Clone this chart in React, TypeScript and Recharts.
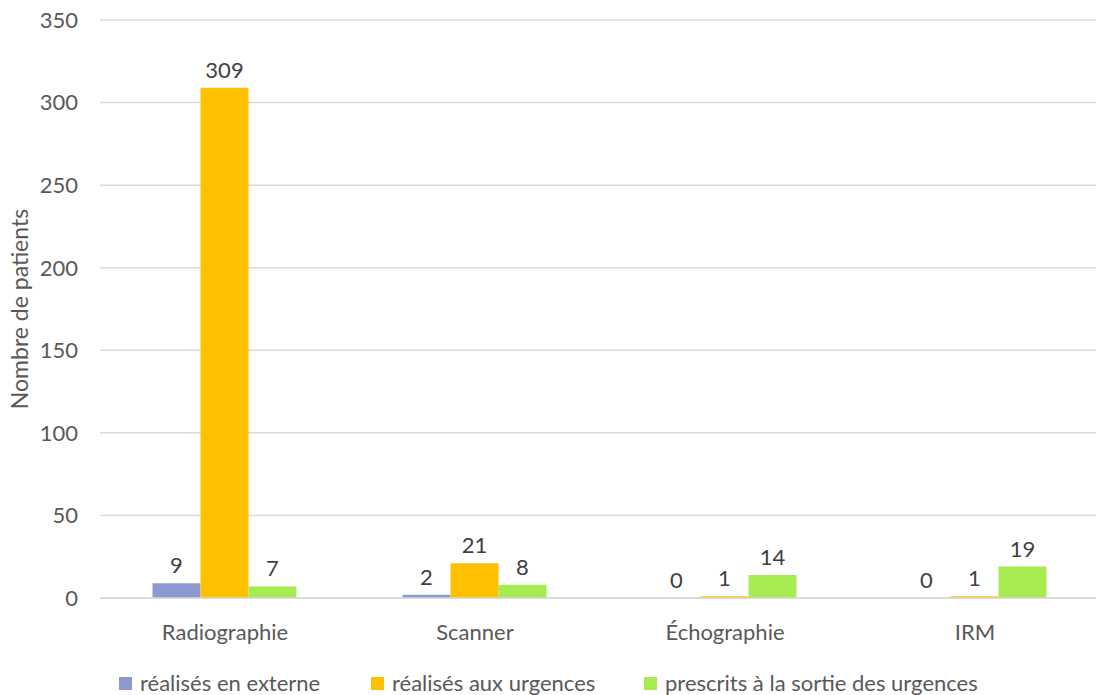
import { BarChart, Bar, XAxis, YAxis, CartesianGrid, Legend, LabelList } from "recharts";

const categories = ["Radiographie", "Scanner", "Échographie", "IRM"];
const externe = [9, 2, 0, 0];
const urgences = [309, 21, 1, 1];
const sortie = [7, 8, 14, 19];
const yTicks = [0, 50, 100, 150, 200, 250, 300, 350];

const series = [
  { key: "externe", name: "réalisés en externe", color: "#8F99D1" },
  { key: "urgences", name: "réalisés aux urgences", color: "#FFC000" },
  { key: "sortie", name: "prescrits à la sortie des urgences", color: "#A6EB50" },
];
const legendWidths = [252, 273, 400];

const data = categories.map((c, i) => ({
  name: c,
  externe: externe[i],
  urgences: urgences[i],
  sortie: sortie[i],
}));

const font = "Lato, 'Open Sans', sans-serif";

function LegendContent() {
  return (
    <div
      style={{
        display: "flex",
        height: 45,
        paddingLeft: 119,
        paddingTop: 21,
        boxSizing: "border-box",
        fontFamily: font,
        fontSize: 22,
        color: "#595959",
      }}
    >
      {series.map((s, i) => (
        <div key={s.key} style={{ display: "flex", alignItems: "center", width: legendWidths[i], lineHeight: "22px" }}>
          <span style={{ display: "inline-block", width: 13, height: 13, background: s.color, marginRight: 8 }} />
          <span>{s.name}</span>
        </div>
      ))}
    </div>
  );
}

function ValueText({ cx, y, value }: { cx: number; y: number; value: number }) {
  return (
    <text x={cx} y={y - 10} textAnchor="middle" fill="#404040" fontSize={22} fontFamily={font}>
      {value}
    </text>
  );
}

function ValueLabel(props: any) {
  const { x, y, width, value } = props;
  if (value === undefined || value === null) return null;
  return <ValueText cx={Number(x) + Number(width) / 2} y={Number(y)} value={value} />;
}

// zero-height bars get no label from recharts, so the middle bar also
// writes the "0" of the externe bar sitting just left of it
function MiddleLabel(props: any) {
  const { x, y, width, value, index } = props;
  const w = Number(width);
  const base = Number(y) + Number(props.height);
  return (
    <g>
      <ValueText cx={Number(x) + w / 2} y={Number(y)} value={value} />
      {externe[index] === 0 && <ValueText cx={Number(x) - w / 2} y={base} value={0} />}
    </g>
  );
}

export default function App() {
  return (
    <div style={{ position: "absolute", left: 0, top: 0, width: 1096, height: 695, overflow: "hidden", background: "#fff" }}>
      <BarChart
        width={1100}
        height={695}
        data={data}
        margin={{ top: 20, right: 0, left: 0, bottom: 0 }}
        barCategoryGap="21%"
        barGap={0}
      >
        <CartesianGrid vertical={false} stroke="#D9D9D9" strokeWidth={1.5} />
        <XAxis
          dataKey="name"
          height={52}
          axisLine={{ stroke: "#D9D9D9", strokeWidth: 1.5 }}
          tickLine={false}
          tickMargin={20}
          tick={{ fill: "#595959", fontSize: 22, fontFamily: font }}
        />
        <YAxis
          width={100}
          domain={[0, 350]}
          ticks={yTicks}
          axisLine={false}
          tickLine={false}
          tickSize={0}
          tickMargin={22}
          tick={{ fill: "#595959", fontSize: 22, fontFamily: font }}
          label={{
            value: "Nombre de patients",
            angle: -90,
            position: "center",
            dx: -30,
            fill: "#595959",
            fontSize: 23,
            fontFamily: font,
          }}
        />
        <Legend verticalAlign="bottom" content={<LegendContent />} />
        {series.map((s) => (
          <Bar key={s.key} dataKey={s.key} name={s.name} fill={s.color} isAnimationActive={false}>
            <LabelList dataKey={s.key} content={s.key === "urgences" ? <MiddleLabel /> : <ValueLabel />} />
          </Bar>
        ))}
      </BarChart>
    </div>
  );
}
